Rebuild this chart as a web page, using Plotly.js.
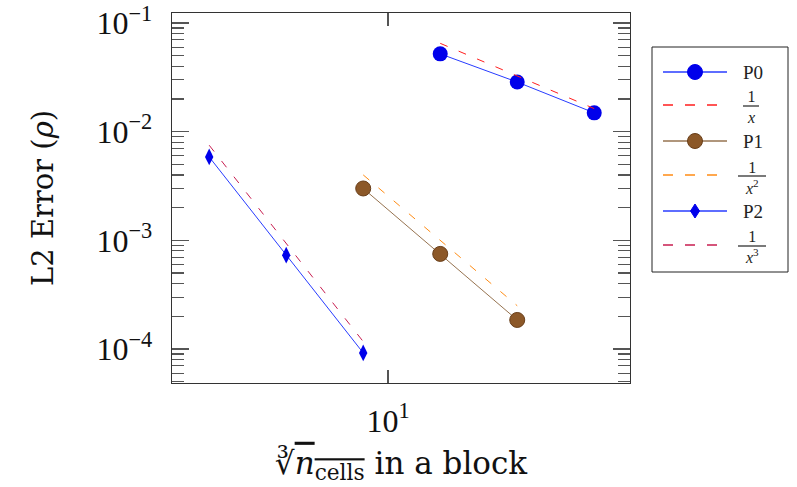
<!DOCTYPE html>
<html>
<head>
<meta charset="utf-8">
<script src="https://cdn.plot.ly/plotly-3.0.1.min.js"></script>
<style>
  html, body { margin: 0; padding: 0; background: #fff; }
  #chart { width: 797px; height: 487px; }
</style>
</head>
<body>
<div id="chart"></div>
<script>
// Cells per block edge (cube root of the cell count) for each polynomial order
const cellsP0 = [16, 32, 64];
const cellsP1 = [8, 16, 32];
const cellsP2 = [2, 4, 8];

// L2 error of the density
const errP0 = [5.2e-2, 2.86e-2, 1.49e-2];
const errP1 = [3.0e-3, 7.5e-4, 1.85e-4];
const errP2 = [5.85e-3, 7.3e-4, 9.2e-5];

// Reference slopes 1/x, 1/x^2, 1/x^3
const refP0 = [6.5e-2, 3.25e-2, 1.63e-2];
const refP1 = [4.0e-3, 1.0e-3, 2.5e-4];
const refP2 = [7.5e-3, 9.4e-4, 1.17e-4];

// Axis tick labels
const xTickVals = [10];
const xTickText = ['10<sup>1</sup>'];
const yTickVals = [1e-4, 1e-3, 1e-2, 1e-1];
const yTickText = ['10<sup>−4</sup>', '10<sup>−3</sup>', '10<sup>−2</sup>', '10<sup>−1</sup>'];

// Legend labels
const legendNames = ['P0', 'P1', 'P2'];
const slopeLabels = ['1<br><i>x</i>', '1<br><i>x</i><sup>2</sup>', '1<br><i>x</i><sup>3</sup>'];

const SERIF = "'Liberation Serif', 'DejaVu Serif', serif";
const TITLE_SERIF = "'DejaVu Serif', 'Liberation Serif', serif";
const BLUE = 'rgb(0,0,235)';
const BLUE_LINE = 'rgb(40,60,255)';
const BROWN = 'rgb(140,88,40)';
const BROWN_LINE = 'rgb(150,115,80)';
const RED = 'rgb(255,30,30)';
const ORANGE = 'rgb(255,140,20)';
const CRIMSON = 'rgb(200,30,80)';
const DASH = '8px,12px';

const traces = [
  { x: cellsP0, y: errP0, mode: 'lines+markers',
    line: { color: BLUE_LINE, width: 1 },
    marker: { color: BLUE, size: 15, symbol: 'circle' } },
  { x: cellsP0, y: refP0, mode: 'lines',
    line: { color: RED, width: 1, dash: DASH } },
  { x: cellsP1, y: errP1, mode: 'lines+markers',
    line: { color: BROWN_LINE, width: 1 },
    marker: { color: BROWN, size: 15, symbol: 'circle', line: { color: 'rgb(105,62,25)', width: 1 } } },
  { x: cellsP1, y: refP1, mode: 'lines',
    line: { color: ORANGE, width: 1, dash: DASH } },
  { x: cellsP2, y: errP2, mode: 'lines+markers',
    line: { color: BLUE_LINE, width: 1 },
    marker: { color: BLUE, size: 12, symbol: 'diamond-tall' } },
  { x: cellsP2, y: refP2, mode: 'lines',
    line: { color: CRIMSON, width: 1, dash: DASH } }
];

// Plot area in pixels: left 172, right 630, top 13, bottom 383
const L = 172, R = 630, T = 13, B = 383;
const px = v => (v - L) / (R - L);
const py = v => (B - v) / (B - T);

// Hand-built legend: frame, line samples, markers and labels
const rows = [72, 105, 141, 175, 211, 245];
const rowStyles = [
  { color: BLUE_LINE, dash: 'solid' },
  { color: RED, dash: 'dash' },
  { color: BROWN_LINE, dash: 'solid' },
  { color: ORANGE, dash: 'dash' },
  { color: BLUE_LINE, dash: 'solid' },
  { color: CRIMSON, dash: 'dash' }
];

const shapes = [
  { type: 'rect', xref: 'paper', yref: 'paper',
    x0: px(652), x1: px(788), y0: py(47), y1: py(272),
    line: { color: '#222', width: 1 }, fillcolor: 'white', layer: 'below' }
];
rows.forEach((r, i) => {
  shapes.push({ type: 'line', xref: 'paper', yref: 'paper',
    x0: px(663), x1: px(727), y0: py(r), y1: py(r),
    line: { color: rowStyles[i].color, width: 1.3, dash: rowStyles[i].dash === 'dash' ? '10px,12px' : 'solid' } });
});
// legend markers
[[rows[0], BLUE, null], [rows[2], BROWN, 'rgb(105,62,25)']].forEach(([r, c, lc]) => {
  shapes.push({ type: 'circle', xref: 'paper', yref: 'paper',
    xsizemode: 'pixel', ysizemode: 'pixel', xanchor: px(695), yanchor: py(r),
    x0: -7.5, x1: 7.5, y0: -7.5, y1: 7.5,
    fillcolor: c, line: { color: lc || c, width: 1 } });
});
shapes.push({ type: 'path', xref: 'paper', yref: 'paper',
  xsizemode: 'pixel', ysizemode: 'pixel', xanchor: px(695), yanchor: py(rows[4]),
  path: 'M0,7 L4.5,0 L0,-7 L-4.5,0 Z',
  fillcolor: BLUE, line: { color: BLUE, width: 1 } });

// slope labels: stacked numerator/denominator with a fraction bar
const fracs = [
  { mid: 107, bar: 106, x0: 743, x1: 759 },
  { mid: 178, bar: 176, x0: 738, x1: 766 },
  { mid: 247, bar: 246, x0: 738, x1: 766 }
];
fracs.forEach(f => {
  shapes.push({ type: 'line', xref: 'paper', yref: 'paper',
    x0: px(f.x0), x1: px(f.x1), y0: py(f.bar), y1: py(f.bar),
    line: { color: '#222', width: 1.2 } });
});

const annotations = [];
const legFont = { family: SERIF, size: 19, color: '#222' };
const fracFont = { family: SERIF, size: 16, color: '#222' };
[rows[0], rows[2], rows[4]].forEach((r, i) => {
  annotations.push({ xref: 'paper', yref: 'paper', x: px(753), y: py(r),
    text: legendNames[i], showarrow: false, font: legFont, xanchor: 'center', yanchor: 'middle' });
});
fracs.forEach((f, i) => {
  annotations.push({ xref: 'paper', yref: 'paper', x: px((f.x0 + f.x1) / 2), y: py(f.mid),
    text: slopeLabels[i], showarrow: false, font: fracFont, xanchor: 'center', yanchor: 'middle',
    align: 'center' });
});

const axisCommon = {
  type: 'log',
  showgrid: false, zeroline: false,
  showline: true, linecolor: '#333', linewidth: 1.3, mirror: 'ticks',
  ticks: 'inside', tickcolor: '#555', tickwidth: 1.2,
  tickfont: { family: SERIF, size: 32, color: '#111' }
};

const layout = {
  width: 797, height: 487,
  margin: { l: L, r: 797 - R, t: T, b: 487 - B },
  paper_bgcolor: 'white', plot_bgcolor: 'white',
  showlegend: false,
  xaxis: Object.assign({}, axisCommon, {
    range: [0.1556, 1.946],
    tickmode: 'array', tickvals: xTickVals, ticktext: xTickText,
    ticklen: 13, ticklabelstandoff: 9,
    title: { text: '∛<span style="text-decoration:overline"><i>n</i><sub>cells</sub></span> in a block',
             font: { family: TITLE_SERIF, size: 31, color: '#111' }, standoff: 14 }
  }),
  yaxis: Object.assign({}, axisCommon, {
    range: [-4.313, -0.908],
    tickmode: 'array', tickvals: yTickVals, ticktext: yTickText,
    ticklen: 17, ticklabelstandoff: 12,
    minor: { ticks: 'inside', ticklen: 12, tickmode: 'linear', dtick: 'D1', tickcolor: '#555', tickwidth: 1.2, showgrid: false },
    title: { text: 'L2 Error (<i>ρ</i>)', font: { family: TITLE_SERIF, size: 29, color: '#111' }, standoff: 34 }
  }),
  shapes: shapes,
  annotations: annotations
};

Plotly.newPlot('chart', traces, layout, { staticPlot: true, displayModeBar: false });
</script>
</body>
</html>
